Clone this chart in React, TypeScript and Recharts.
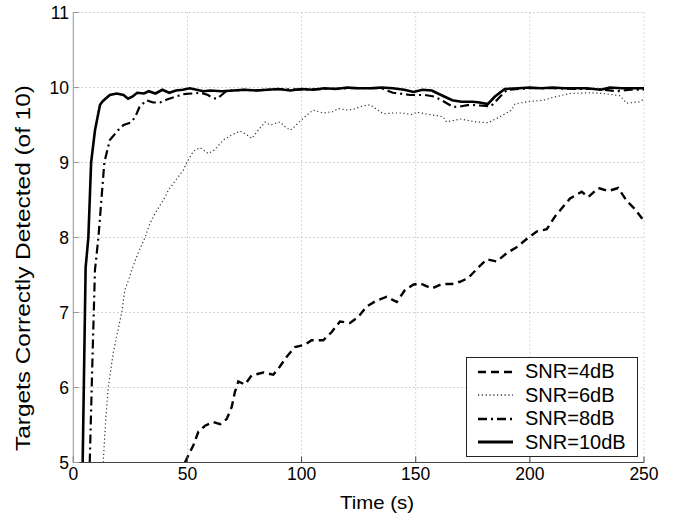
import React from "react";
import { LineChart, Line, XAxis, YAxis, CartesianGrid, Legend } from "recharts";

// time (s), targets detected (of 10)
const snr4 = [
  [48.9, 5.0], [52.6, 5.23], [54.8, 5.41], [57.7, 5.49], [61.3, 5.54], [64.3, 5.51],
  [67.2, 5.58], [69.4, 5.74], [70.8, 5.94], [72.3, 6.08], [75.2, 6.04], [78.1, 6.16],
  [83.2, 6.2], [87.6, 6.17], [90.5, 6.28], [93.5, 6.41], [97.1, 6.54], [101.5, 6.57],
  [104.4, 6.63], [109.5, 6.63], [113.2, 6.74], [116.8, 6.88], [121.2, 6.86], [124.8, 6.94],
  [128.5, 7.08], [132.9, 7.16], [137.3, 7.21], [141.7, 7.14], [145.3, 7.3], [148.9, 7.37],
  [151.9, 7.39], [157, 7.32], [161.4, 7.38], [165.8, 7.38], [169.4, 7.41], [173, 7.46],
  [177.4, 7.6], [181.1, 7.71], [185.5, 7.68], [189.8, 7.79], [194.2, 7.87], [198.6, 7.98],
  [203, 8.08], [207.4, 8.11], [211, 8.28], [214, 8.39], [217.6, 8.52], [222.7, 8.61],
  [225.6, 8.54], [230, 8.66], [234.4, 8.62], [238.7, 8.66], [242.4, 8.49], [246, 8.38],
  [249, 8.26], [250, 8.24],
];

const snr6 = [
  [13.1, 5.0], [14.2, 5.57], [15.3, 6.0], [17.5, 6.46], [21.2, 7.0], [22.6, 7.3],
  [24.5, 7.46], [25.6, 7.57], [28.5, 7.8], [31.4, 8.0], [33.6, 8.19], [35.8, 8.32],
  [40.2, 8.54], [41.6, 8.63], [46, 8.81], [48.2, 8.9], [49.7, 9.0], [52.6, 9.15],
  [55.5, 9.2], [59.1, 9.12], [62, 9.17], [65.7, 9.3], [69, 9.36], [73, 9.42],
  [76, 9.37], [78.1, 9.32], [81, 9.43], [84, 9.54], [86.2, 9.5], [90.5, 9.54],
  [92.7, 9.48], [95, 9.43], [97, 9.48], [100, 9.57], [105, 9.7], [109.5, 9.66],
  [114, 9.68], [116, 9.72], [119.8, 9.7], [122.7, 9.71], [126.3, 9.75], [130, 9.77],
  [132.9, 9.71], [135.8, 9.65], [140.2, 9.66], [143.8, 9.66], [148.2, 9.64], [150.4, 9.67],
  [156, 9.64], [162, 9.61], [163.5, 9.54], [169.4, 9.58], [176.7, 9.54], [181.8, 9.53],
  [186.9, 9.61], [192, 9.7], [193.5, 9.78], [198.6, 9.81], [205.9, 9.83], [210.3, 9.87],
  [217.6, 9.92], [226.3, 9.93], [232.2, 9.92], [239.5, 9.89], [242.4, 9.79], [245, 9.8],
  [248.2, 9.81], [250, 9.85],
];

const snr8 = [
  [7.2, 5.0], [8.5, 6.5], [9.5, 7.57], [11, 8.0], [13.6, 9.0], [16, 9.3],
  [19.6, 9.43], [22, 9.5], [25, 9.53], [27, 9.6], [29, 9.74], [32, 9.83],
  [35, 9.8], [38, 9.8], [41, 9.84], [45, 9.88], [48, 9.91], [52, 9.92],
  [56, 9.93], [59, 9.9], [61, 9.86], [63, 9.85], [65, 9.9], [67, 9.95],
  [70, 9.96], [75, 9.97], [80, 9.96], [90, 9.98], [100, 9.97], [110, 9.98],
  [120, 9.99], [130, 9.99], [135, 9.99], [140, 9.93], [143, 9.92], [147.5, 9.9],
  [151, 9.9], [154, 9.9], [158, 9.88], [161.4, 9.83], [166.4, 9.74], [170, 9.75],
  [173.8, 9.77], [178, 9.76], [183, 9.75], [187, 9.88], [190, 9.97], [195, 9.98],
  [200, 9.99], [210, 9.99], [220, 9.98], [230, 9.98], [238, 9.95], [244, 9.97],
  [250, 9.97],
];

const snr10 = [
  [4.1, 5.0], [5.4, 7.6], [6.6, 8.0], [7.8, 9.0], [9.5, 9.43], [11.7, 9.77],
  [13, 9.82], [16, 9.9], [19, 9.92], [22, 9.9], [24, 9.85], [26, 9.88],
  [28, 9.93], [31, 9.92], [33, 9.95], [36, 9.92], [39, 9.97], [42, 9.93],
  [45, 9.96], [48, 9.97], [51, 9.99], [54, 9.97], [57, 9.95], [60, 9.96],
  [65, 9.95], [70, 9.96], [75, 9.97], [80, 9.96], [85, 9.97], [90, 9.98],
  [95, 9.96], [100, 9.98], [105, 9.97], [110, 9.99], [115, 9.98], [120, 10.0],
  [125, 9.99], [130, 9.99], [135, 10.0], [140, 9.99], [145, 9.97], [149, 9.94],
  [153, 9.97], [157, 9.96], [162.5, 9.88], [166, 9.83], [170, 9.81], [175, 9.81],
  [178, 9.8], [181.6, 9.78], [184.7, 9.88], [189, 9.98], [195, 9.99], [200, 10.0],
  [205, 9.99], [210, 10.0], [215, 9.99], [220, 9.99], [225, 9.99], [231, 9.97],
  [235, 10.0], [240, 9.99], [245, 9.99], [250, 9.99],
];

const xTicks = [0, 50, 100, 150, 200, 250];
const yTicks = [5, 6, 7, 8, 9, 10, 11];

const toRows = (pts: number[][]) => pts.map(([t, v]) => ({ t, v }));

const FONT = "'Liberation Sans', Arial, Helvetica, sans-serif";

const series = [
  { name: "SNR=4dB", data: toRows(snr4), width: 2.4, dash: "8 5", color: "#000" },
  { name: "SNR=6dB", data: toRows(snr6), width: 1.2, dash: "1.2 2.6", color: "#333" },
  { name: "SNR=8dB", data: toRows(snr8), width: 2.2, dash: "9 4 2 4", color: "#000" },
  { name: "SNR=10dB", data: toRows(snr10), width: 2.6, dash: undefined, color: "#000" },
];

function LegendBox() {
  return (
    <div
      style={{
        width: 170,
        height: 96,
        border: "1px solid #222",
        background: "#fff",
        fontFamily: FONT,
        fontSize: 20,
        boxSizing: "content-box",
        paddingTop: 2,
      }}
    >
      {series.map((s) => (
        <div key={s.name} style={{ display: "flex", alignItems: "center", height: 23.5 }}>
          <svg width={58} height={12} style={{ display: "block" }}>
            <line
              x1={11}
              x2={46}
              y1={6}
              y2={6}
              stroke={s.color}
              strokeWidth={s.width + 0.3}
              strokeDasharray={s.dash}
            />
          </svg>
          <span style={{ lineHeight: "23.5px", color: "#000" }}>{s.name}</span>
        </div>
      ))}
    </div>
  );
}

export default function App() {
  return (
    <div style={{ position: "absolute", left: 0, top: 0, background: "#fff" }}>
      <LineChart
        width={673}
        height={518}
        margin={{ top: 12.5, right: 29, bottom: 0, left: 0 }}
        style={{ fontFamily: FONT }}
      >
        <CartesianGrid stroke="#aaa" strokeDasharray="1 3" />
        <XAxis
          type="number"
          dataKey="t"
          domain={[0, 250]}
          ticks={xTicks}
          allowDataOverflow
          height={55.5}
          tickSize={-6}
          tickMargin={11.5}
          tick={{ fill: "#000", fontSize: 17.5 }}
          axisLine={{ stroke: "#444" }}
          tickLine={{ stroke: "#444" }}
          label={{
            content: () => (
              <text
                x={377}
                y={509}
                textAnchor="middle"
                fontSize={19}
                textLength={74}
                lengthAdjust="spacingAndGlyphs"
                fill="#000"
                fontFamily={FONT}
              >
                Time (s)
              </text>
            ),
          }}
        />
        <YAxis
          type="number"
          dataKey="v"
          domain={[5, 11]}
          ticks={yTicks}
          allowDataOverflow
          width={73.3}
          tickSize={-6}
          tickMargin={10.3}
          tick={{ fill: "#000", fontSize: 17.5 }}
          axisLine={{ stroke: "#999" }}
          tickLine={{ stroke: "#999" }}
          label={{
            content: () => (
              <text
                x={29.5}
                y={268}
                transform="rotate(-90, 29.5, 268)"
                textAnchor="middle"
                fontSize={20}
                textLength={366}
                lengthAdjust="spacingAndGlyphs"
                fill="#000"
                fontFamily={FONT}
              >
                Targets Correctly Detected (of 10)
              </text>
            ),
          }}
        />
        <Legend
          layout="vertical"
          align="center"
          verticalAlign="middle"
          content={() => <LegendBox />}
          wrapperStyle={{ position: "absolute", left: 466, top: 357, width: 172, height: 99 }}
        />
        {series.map((s) => (
          <Line
            key={s.name}
            name={s.name}
            data={s.data}
            dataKey="v"
            type="linear"
            stroke={s.color}
            strokeWidth={s.width}
            strokeDasharray={s.dash}
            dot={false}
            activeDot={false}
            isAnimationActive={false}
          />
        ))}
      </LineChart>
    </div>
  );
}
